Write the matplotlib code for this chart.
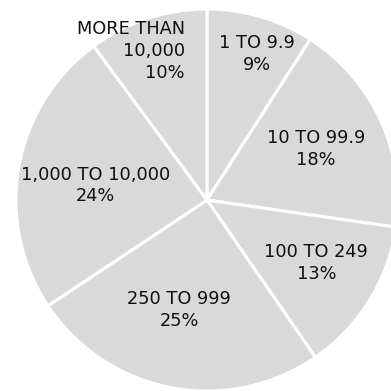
import numpy as np
from matplotlib import pyplot

# share of establishments by size class
categories = ['1 TO 9.9', '10 TO 99.9', '100 TO 249', '250 TO 999',
              '1,000 TO 10,000', 'MORE THAN\n10,000']
shares = [9, 18, 13, 25, 24, 10]

# label placement: fraction of radius, angle offset (deg) from wedge middle
label_dist = [0.81, 0.63, 0.66, 0.592, 0.588, 0.877]
label_shift = [-2.5, 0.5, 2.0, -3.3, 2.6, 8.9]

fig = pyplot.figure(figsize=(3.91, 3.91), dpi=100)
ax = fig.add_axes([0, 0, 1, 1])
ax.set_aspect('equal')
ax.axis('off')

cx, cy, radius = 207, 191, 191
wedges, _ = ax.pie(shares, startangle=90, counterclock=False,
                   center=(cx, cy), radius=radius, colors=['#d9d9d9'] * len(shares),
                   wedgeprops=dict(edgecolor='white', linewidth=2.2))
ax.set_xlim(0, 391)
ax.set_ylim(0, 391)

for wedge, cat, share, dist, shift in zip(wedges, categories, shares, label_dist, label_shift):
    mid = np.deg2rad((wedge.theta1 + wedge.theta2) / 2 + shift)
    x = cx + dist * radius * np.cos(mid)
    y = cy + dist * radius * np.sin(mid)
    align = 'right' if '\n' in cat else 'center'
    ax.text(x, y, f'{cat}\n{share}%', ha='center', va='center', multialignment=align,
            fontsize=12.8, color='#111111', linespacing=1.28, family='DejaVu Sans')

fig.savefig('out.png', dpi=100)
